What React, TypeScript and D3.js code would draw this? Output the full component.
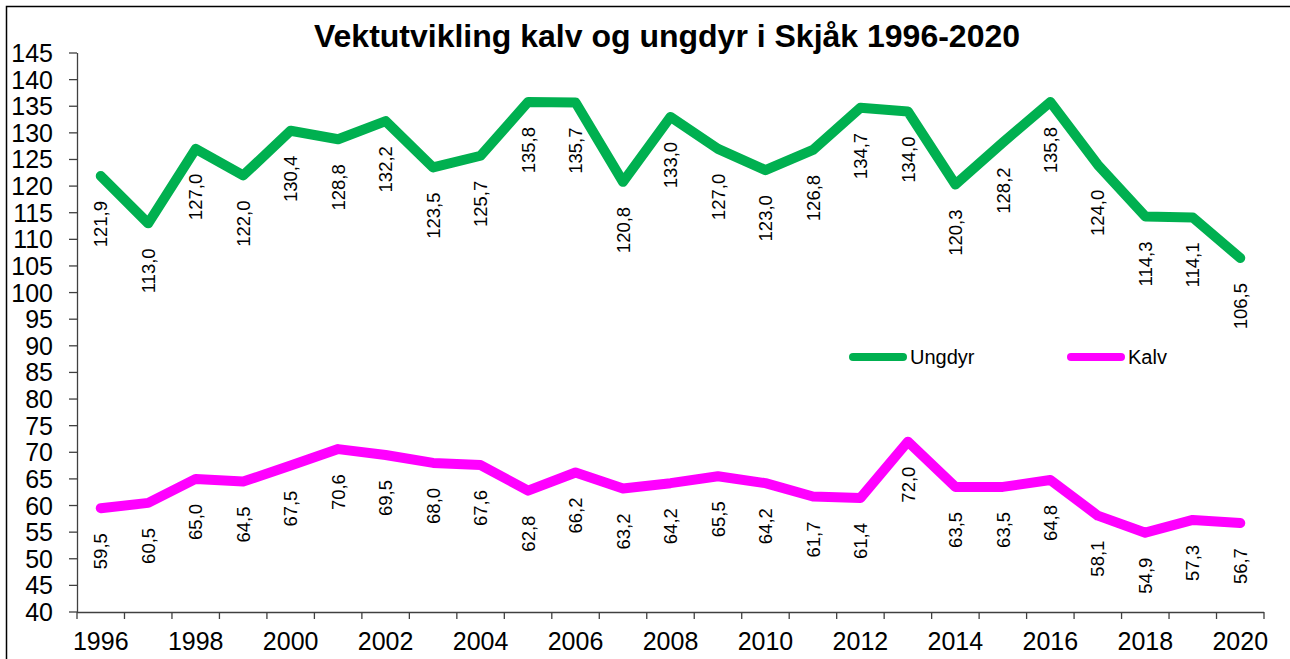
import { useEffect, useRef } from 'react'
import * as d3 from 'd3'

const years = d3.range(1996, 2021).map(String)
const ungdyr = [121.9, 113.0, 127.0, 122.0, 130.4, 128.8, 132.2, 123.5, 125.7, 135.8, 135.7, 120.8, 133.0, 127.0, 123.0, 126.8, 134.7, 134.0, 120.3, 128.2, 135.8, 124.0, 114.3, 114.1, 106.5]
const kalv = [59.5, 60.5, 65.0, 64.5, 67.5, 70.6, 69.5, 68.0, 67.6, 62.8, 66.2, 63.2, 64.2, 65.5, 64.2, 61.7, 61.4, 72.0, 63.5, 63.5, 64.8, 58.1, 54.9, 57.3, 56.7]
const yTicks = d3.range(40, 146, 5)
const xLabels = years.filter((_, i) => i % 2 === 0)

const series = [
  { name: 'Ungdyr', values: ungdyr, color: '#00B050' },
  { name: 'Kalv', values: kalv, color: '#FF00FF' },
]

const FONT = '"Liberation Sans", Arial, sans-serif'

export default function App() {
  const svgRef = useRef<SVGSVGElement | null>(null)
  const width = 1290
  const height = 659

  useEffect(() => {
    if (!svgRef.current) return
    const svg = d3.select(svgRef.current)
    svg.selectAll('*').remove()

    const left = 77
    const right = 1264
    const top = 53
    const bottom = 612

    const x = d3.scaleBand<string>().domain(years).range([left, right]).padding(0)
    const y = d3.scaleLinear().domain([40, 145]).range([bottom, top])
    const cx = (yr: string) => (x(yr) ?? 0) + x.bandwidth() / 2

    // outer frame (right and bottom edges fall outside the picture)
    svg.append('rect')
      .attr('x', 6.5).attr('y', 6.5)
      .attr('width', 1300).attr('height', 700)
      .attr('fill', 'white')
      .attr('stroke', '#000').attr('stroke-width', 1.5)

    // title
    svg.append('text')
      .attr('x', 667).attr('y', 47)
      .attr('text-anchor', 'middle')
      .attr('font-family', FONT)
      .attr('font-size', 32)
      .attr('font-weight', 'bold')
      .text('Vektutvikling kalv og ungdyr i Skjåk 1996-2020')

    const axisColor = '#404040'

    // y axis
    svg.append('line')
      .attr('x1', left + 0.5).attr('x2', left + 0.5)
      .attr('y1', top).attr('y2', bottom)
      .attr('stroke', axisColor).attr('stroke-width', 1.3)
    yTicks.forEach((t) => {
      svg.append('line')
        .attr('x1', left - 8).attr('x2', left)
        .attr('y1', y(t)).attr('y2', y(t))
        .attr('stroke', axisColor).attr('stroke-width', 1.3)
      svg.append('text')
        .attr('x', 53).attr('y', y(t))
        .attr('dy', '0.36em')
        .attr('text-anchor', 'end')
        .attr('font-family', FONT)
        .attr('font-size', 25)
        .attr('fill', '#000')
        .text(t)
    })

    // x axis, ticks between categories
    svg.append('line')
      .attr('x1', left).attr('x2', right)
      .attr('y1', bottom + 0.5).attr('y2', bottom + 0.5)
      .attr('stroke', axisColor).attr('stroke-width', 1.3)
    d3.range(years.length + 1).forEach((i) => {
      const tx = left + i * x.step()
      svg.append('line')
        .attr('x1', tx).attr('x2', tx)
        .attr('y1', bottom).attr('y2', bottom + 7)
        .attr('stroke', axisColor).attr('stroke-width', 1.3)
    })
    xLabels.forEach((yr) => {
      svg.append('text')
        .attr('x', cx(yr)).attr('y', 650)
        .attr('text-anchor', 'middle')
        .attr('font-family', FONT)
        .attr('font-size', 25)
        .attr('fill', '#000')
        .text(yr)
    })

    // lines
    const line = d3.line<number>()
      .x((_, i) => cx(years[i]))
      .y((d) => y(d))

    series.forEach((s) => {
      svg.append('path')
        .datum(s.values)
        .attr('d', line)
        .attr('fill', 'none')
        .attr('stroke', s.color)
        .attr('stroke-width', 10)
        .attr('stroke-linejoin', 'round')
        .attr('stroke-linecap', 'round')

      // value labels, rotated, below each point
      s.values.forEach((v, i) => {
        const px = cx(years[i])
        const py = y(v) + 25
        svg.append('text')
          .attr('transform', `translate(${px},${py}) rotate(-90)`)
          .attr('text-anchor', 'end')
          .attr('dy', '0.36em')
          .attr('font-family', FONT)
          .attr('font-size', 18.5)
          .attr('fill', '#000')
          .text(v.toFixed(1).replace('.', ','))
      })
    })

    // legend
    const legend = [
      { s: series[0], x1: 849, x2: 907 },
      { s: series[1], x1: 1067, x2: 1125 },
    ]
    legend.forEach(({ s, x1, x2 }) => {
      svg.append('line')
        .attr('x1', x1 + 4).attr('x2', x2 - 4)
        .attr('y1', 357).attr('y2', 357)
        .attr('stroke', s.color)
        .attr('stroke-width', 8)
        .attr('stroke-linecap', 'round')
      svg.append('text')
        .attr('x', x2 + 3).attr('y', 364)
        .attr('font-family', FONT)
        .attr('font-size', 20)
        .attr('fill', '#000')
        .text(s.name)
    })
  }, [])

  return (
    <svg
      ref={svgRef}
      width={width}
      height={height}
      style={{ position: 'absolute', left: 0, top: 0, background: 'white' }}
    />
  )
}
